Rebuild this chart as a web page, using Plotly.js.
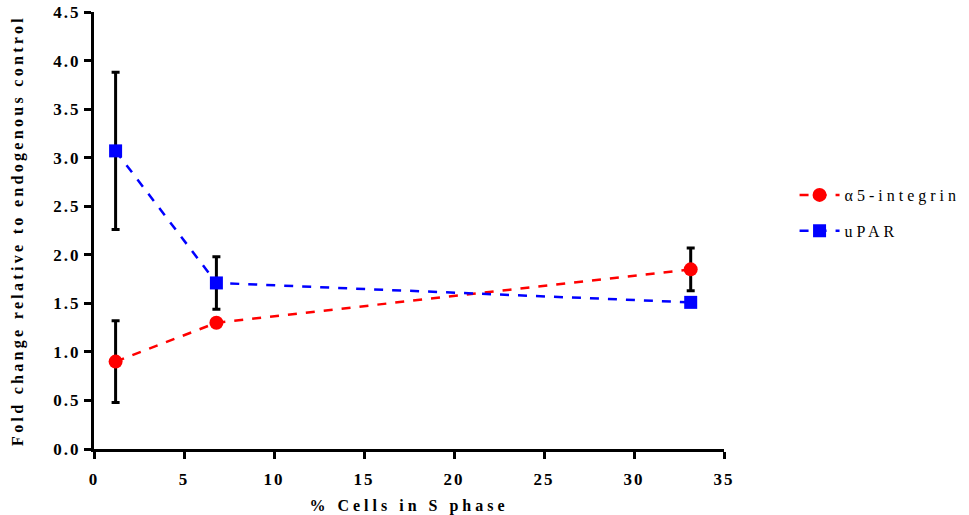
<!DOCTYPE html>
<html><head><meta charset="utf-8">
<script src="https://cdn.plot.ly/plotly-3.0.1.min.js"></script>
<style>
body{margin:0;background:#fff;}
svg text.xtitle{letter-spacing:4px !important;}
svg text.ytitle{letter-spacing:3.3px !important;}
svg text.legendtext{letter-spacing:4px !important;}
svg .xtick text, svg .ytick text{letter-spacing:2px !important;}
</style>
</head><body>
<div id="chart" style="width:969px;height:515px;"></div>
<script>
const xValues = [1.2, 6.8, 33.15];
const integrinY = [0.90, 1.30, 1.85];
const integrinErr = [0.42, 0.02, 0.22];
const uparY = [3.07, 1.71, 1.51];
const uparErr = [0.81, 0.27, 0.02];
const seriesNames = ["α5-integrin", "uPAR"];
const xTitle = "% Cells in S phase";
const yTitle = "Fold change relative to endogenous control";

const errStyle = {type:'data', visible:true, color:'#000', thickness:3, width:4};
const traces = [
  {x:xValues, y:integrinY, name:seriesNames[0], legendgroup:'a', mode:'lines+markers',
   line:{color:'#ff0000', dash:'dash', width:2.5},
   marker:{symbol:'circle', size:14, color:'#ff0000'},
   error_y:Object.assign({array:integrinErr}, errStyle)},
  {x:xValues, y:uparY, name:seriesNames[1], legendgroup:'b', mode:'lines+markers',
   line:{color:'#0000ff', dash:'dash', width:2.5},
   marker:{symbol:'square', size:13, color:'#0000ff'},
   error_y:Object.assign({array:uparErr}, errStyle)}
];
const tickFont = {family:'"Liberation Serif", serif', size:17, color:'#000', weight:'bold'};
const layout = {
  width:969, height:515,
  margin:{l:94, r:245, t:12, b:66, autoexpand:false},
  paper_bgcolor:'#fff', plot_bgcolor:'#fff',
  showlegend:true,
  legend:{x:1.112, y:0.54, xanchor:'left', yanchor:'middle', traceorder:'grouped', tracegroupgap:12,
    font:{family:'"Liberation Serif", serif', size:16, color:'#000'}, itemwidth:40},
  xaxis:{range:[0,35], tickvals:[0,5,10,15,20,25,30,35], showgrid:false, zeroline:false,
    showline:true, linecolor:'#000', linewidth:3, ticks:'outside', ticklen:7, tickwidth:3, tickcolor:'#000',
    tickfont:tickFont, ticklabelstandoff:6,
    title:{text:xTitle, font:{family:'"Liberation Serif", serif', size:16, color:'#000', weight:'bold'}, standoff:12}},
  yaxis:{range:[0,4.5], tickvals:[0,0.5,1,1.5,2,2.5,3,3.5,4,4.5], tickformat:'.1f', showgrid:false, zeroline:false,
    showline:true, linecolor:'#000', linewidth:3, ticks:'outside', ticklen:7, tickwidth:3, tickcolor:'#000',
    tickfont:tickFont,
    title:{text:yTitle, font:{family:'"Liberation Serif", serif', size:16, color:'#000', weight:'bold'}, standoff:26}}
};
Plotly.newPlot('chart', traces, layout, {displayModeBar:false, staticPlot:true});
</script>
</body></html>
